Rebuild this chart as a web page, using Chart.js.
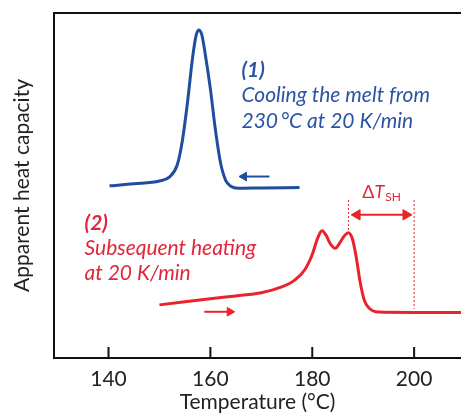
<!DOCTYPE html>
<html><head><meta charset="utf-8">
<script src="https://cdn.jsdelivr.net/npm/chart.js@4/dist/chart.umd.min.js"></script>
<style>html,body{margin:0;padding:0;background:#fff;overflow:hidden}#wrap{width:461px;height:414px}</style>
</head><body><div id="wrap"><canvas id="c" width="461" height="414"></canvas></div>
<script>
// Data
const xTickValues = [140, 160, 180, 200];
const coolingT = [140.2,145,150,152,153.5,154.5,155.5,156.5,157.2,157.7,158.3,159,160,161,162,163,164,165.5,170,177.5];
const coolingCp = [49.9,50.5,51.3,52.5,56,63,74,87,93.5,95.1,93.8,88,78,66,56.5,51.5,49.8,49.2,49.3,49.4];
const heatingT = [150,155,160,165,170,174,176.5,178.5,180,181,181.9,182.7,183.6,184.5,185.5,186.4,187.1,187.9,188.6,189.4,190.2,191.2,193,200,209.5];
const heatingCp = [15.4,16.3,17.2,18,18.9,20.6,22.5,25.5,30,34.5,36.9,35.6,33,31.8,33.6,35.6,36.3,34.4,29.5,22,16.8,14.4,13.3,13.2,13.2];
const onsetT = [187.1, 200];       // dashed markers for ΔT_SH
const dashTopCp = 45.8;
const dashBottomCp = [36.6, 14.2];
const dTArrowT = [188.8, 198.4];
const dTArrowCp = 41.5;
const coolArrowT = [171.6, 166.6];
const coolArrowCp = 52.6;
const heatArrowT = [158.8, 163.8];
const heatArrowCp = 13.4;

const BLUE = '#1f4e9e', RED = '#e8232b', BLUE_TXT = '#2b55a3', RED_TXT = '#e2263a';
const zip = (xs, ys) => xs.map((x, i) => ({x, y: Array.isArray(ys) ? ys[i] : ys}));

const textItems = [
  {t:'(1)', x:166.1, y:81.5, c:BLUE_TXT, bold:true},
  {t:'Cooling the melt from', x:166.1, y:74.3, c:BLUE_TXT},
  {t:'230\u2009°C at 20 K/min', x:166.1, y:66.8, c:BLUE_TXT},
  {t:'(2)', x:135.3, y:37.1, c:RED_TXT, bold:true},
  {t:'Subsequent heating', x:135.3, y:29.9, c:RED_TXT},
  {t:'at 20 K/min', x:135.3, y:22.6, c:RED_TXT},
];

const FONT = 'Lato';

const framePlugin = {
  id: 'frame',
  afterDraw(chart) {
    const {ctx, chartArea: a, scales: {x, y}} = chart;
    ctx.save();
    ctx.strokeStyle = '#111'; ctx.lineWidth = 2;
    ctx.beginPath(); ctx.moveTo(a.left - 1, a.top); ctx.lineTo(a.right + 2, a.top); ctx.stroke();
    xTickValues.forEach(v => {
      const px = x.getPixelForValue(v);
      ctx.beginPath(); ctx.moveTo(px, a.bottom); ctx.lineTo(px, a.bottom - 11); ctx.stroke();
    });
    textItems.forEach(it => {
      ctx.fillStyle = it.c;
      ctx.font = (it.bold ? 'italic bold ' : 'italic ') + '21px ' + FONT;
      ctx.textBaseline = 'alphabetic'; ctx.textAlign = 'left';
      ctx.fillText(it.t, x.getPixelForValue(it.x), y.getPixelForValue(it.y));
    });
    // ΔT_SH label
    const bx = x.getPixelForValue(193.6), by = y.getPixelForValue(46.3);
    ctx.fillStyle = RED_TXT;
    ctx.font = '18px ' + FONT;
    const wD = ctx.measureText('Δ').width;
    ctx.font = 'italic 18px ' + FONT;
    const wT = ctx.measureText('T').width;
    ctx.font = '12px ' + FONT;
    const wS = ctx.measureText('SH').width;
    let sx = bx - (wD + wT + wS + 1) / 2;
    ctx.font = '18px ' + FONT; ctx.fillText('Δ', sx, by); sx += wD;
    ctx.font = 'italic 18px ' + FONT; ctx.fillText('T', sx, by); sx += wT + 1;
    ctx.font = '12px ' + FONT; ctx.fillText('SH', sx, by + 3);
    ctx.restore();
  }
};

new Chart(document.getElementById('c'), {
  type: 'line',
  data: {
    datasets: [
      {data: zip(coolingT, coolingCp), borderColor: BLUE, borderWidth: 3, pointRadius: 0, cubicInterpolationMode: 'monotone'},
      {data: zip(heatingT, heatingCp), borderColor: RED, borderWidth: 3, pointRadius: 0, cubicInterpolationMode: 'monotone'},
      {data: [{x: onsetT[0], y: dashTopCp}, {x: onsetT[0], y: dashBottomCp[0]}], borderColor: RED, borderWidth: 1, borderDash: [2, 2], pointRadius: 0},
      {data: [{x: onsetT[1], y: dashTopCp}, {x: onsetT[1], y: dashBottomCp[1]}], borderColor: RED, borderWidth: 1, borderDash: [2, 2], pointRadius: 0},
      {data: zip(dTArrowT, dTArrowCp), borderColor: RED, backgroundColor: RED, borderWidth: 2, pointStyle: 'triangle', pointRadius: 6, pointRotation: [-90, 90], pointBorderWidth: 1},
      {data: zip(coolArrowT, coolArrowCp), borderColor: BLUE, backgroundColor: BLUE, borderWidth: 2, pointStyle: 'triangle', pointRadius: [0, 5], pointRotation: [0, -90], pointBorderWidth: 1},
      {data: zip(heatArrowT, heatArrowCp), borderColor: RED, backgroundColor: RED, borderWidth: 2, pointStyle: 'triangle', pointRadius: [0, 5], pointRotation: [0, 90], pointBorderWidth: 1},
    ]
  },
  options: {
    responsive: false, animation: false,
    layout: {autoPadding: false, padding: {top: 13, right: 0, left: 0, bottom: 0}},
    plugins: {legend: {display: false}, tooltip: {enabled: false}},
    clip: false,
    scales: {
      x: {
        type: 'linear', min: 129.3, max: 209.2,
        afterBuildTicks: s => { s.ticks = xTickValues.map(v => ({value: v})); },
        afterFit: s => { s.height = 56; },
        grid: {display: false},
        border: {display: true, color: '#111', width: 2},
        ticks: {color: '#222', font: {family: FONT, size: 21}, padding: 1, maxRotation: 0},
        title: {display: true, text: 'Temperature (°C)', color: '#222', font: {family: FONT, size: 21}, padding: {top: 0, bottom: -1}}
      },
      y: {
        type: 'linear', min: 0, max: 100,
        afterFit: s => { s.width = 54; },
        grid: {display: false},
        border: {display: true, color: '#111', width: 2},
        ticks: {display: false},
        title: {display: true, text: 'Apparent heat capacity', color: '#222', font: {family: FONT, size: 21}, padding: {top: 10, bottom: 0}}
      }
    }
  },
  plugins: [framePlugin]
});
</script></body></html>
